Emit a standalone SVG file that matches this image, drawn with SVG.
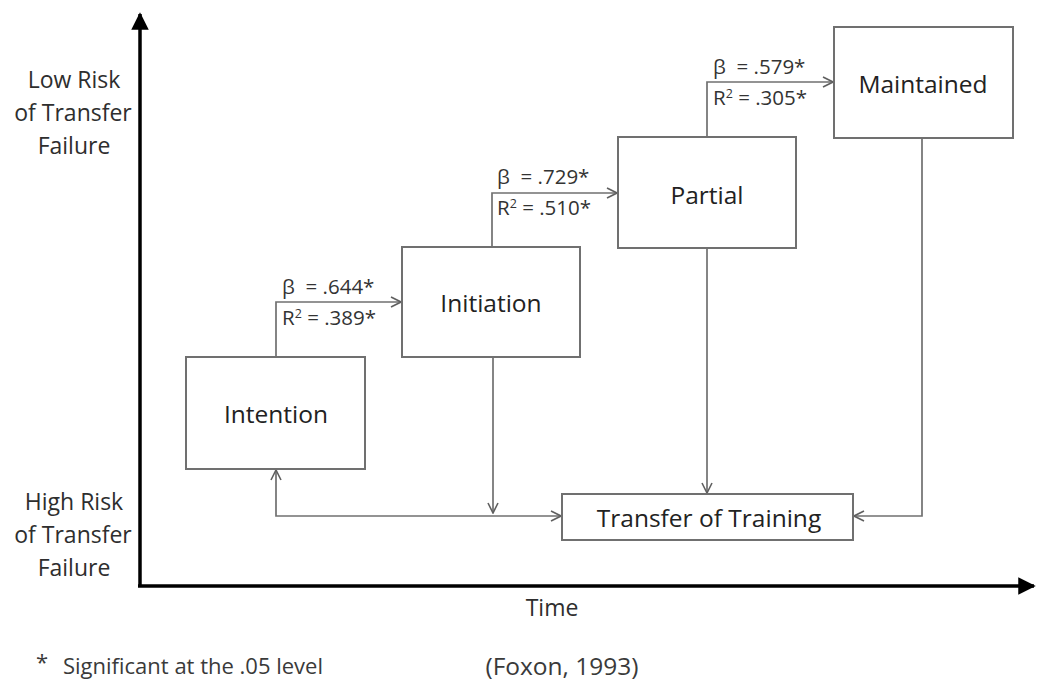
<svg xmlns="http://www.w3.org/2000/svg" width="1041" height="681" viewBox="0 0 1041 681">
  <style>
    .box { fill: #ffffff; stroke: #707070; stroke-width: 2; }
    .lbl { font-family: "Open Sans", "Liberation Sans", sans-serif; font-size: 24.5px; fill: #222222; text-anchor: middle; dominant-baseline: central; }
    .coef { font-family: "Open Sans", "Liberation Sans", sans-serif; font-size: 20.5px; fill: #333333; white-space: pre; }
    .axis-lbl { font-family: "Open Sans", "Liberation Sans", sans-serif; font-size: 23px; fill: #2e2e2e; text-anchor: middle; dominant-baseline: central; }
    .note { font-family: "Open Sans", "Liberation Sans", sans-serif; font-size: 22px; fill: #3a3a3a; dominant-baseline: central; }
    .source { font-size: 24.5px; text-anchor: middle; }
    .conn { fill: none; stroke: #707070; stroke-width: 1.7; }
    .axis { fill: none; stroke: #000000; stroke-width: 3.5; }
  </style>
  <defs>
    <marker id="chev" viewBox="0 0 12 12" refX="11" refY="6" markerWidth="12" markerHeight="12" markerUnits="userSpaceOnUse" orient="auto-start-reverse">
      <path d="M1,1 L11,6 L1,11" fill="none" stroke="#606060" stroke-width="1.6"/>
    </marker>
    <marker id="tri" viewBox="0 0 10 10" refX="9" refY="5" markerWidth="5" markerHeight="5" orient="auto">
      <path d="M0,0 L10,5 L0,10 Z" fill="#000000"/>
    </marker>
  </defs>

  <!-- axes -->
  <g id="axes">
    <path class="axis" d="M140,586 L140,14" marker-end="url(#tri)"/>
    <path class="axis" d="M138,586 L1034,586" marker-end="url(#tri)"/>
    <text class="axis-lbl" x="74" y="79">Low Risk</text>
    <text class="axis-lbl" x="73" y="112">of Transfer</text>
    <text class="axis-lbl" x="74" y="145">Failure</text>
    <text class="axis-lbl" x="74" y="501">High Risk</text>
    <text class="axis-lbl" x="73" y="534">of Transfer</text>
    <text class="axis-lbl" x="74" y="567">Failure</text>
    <text class="axis-lbl" x="552" y="607">Time</text>
  </g>

  <!-- connectors -->
  <g id="connectors">
    <path class="conn" d="M276,357 L276,302 L401,302" marker-end="url(#chev)"/>
    <path class="conn" d="M492,247 L492,193 L617,193" marker-end="url(#chev)"/>
    <path class="conn" d="M707,137 L707,82 L833,82" marker-end="url(#chev)"/>
    <path class="conn" d="M276,470 L276,516 L561,516" marker-start="url(#chev)" marker-end="url(#chev)"/>
    <path class="conn" d="M493,357 L493,513" marker-end="url(#chev)"/>
    <path class="conn" d="M707,248 L707,493" marker-end="url(#chev)"/>
    <path class="conn" d="M922,138 L922,516 L854,516" marker-end="url(#chev)"/>
    <text class="coef" x="282" y="294">β  = .644*</text>
    <text class="coef" x="282" y="325">R<tspan style="font-size:12.5px" dy="-7">2</tspan><tspan dy="7"> = .389*</tspan></text>
    <text class="coef" x="497" y="184">β  = .729*</text>
    <text class="coef" x="497" y="215">R<tspan style="font-size:12.5px" dy="-7">2</tspan><tspan dy="7"> = .510*</tspan></text>
    <text class="coef" x="713" y="74">β  = .579*</text>
    <text class="coef" x="713" y="105">R<tspan style="font-size:12.5px" dy="-7">2</tspan><tspan dy="7"> = .305*</tspan></text>
  </g>

  <g id="intention">
    <rect class="box" x="186" y="357" width="179" height="112"/>
    <text class="lbl" x="276" y="413">Intention</text>
  </g>
  <g id="initiation">
    <rect class="box" x="402" y="247" width="178" height="110"/>
    <text class="lbl" x="491" y="302">Initiation</text>
  </g>
  <g id="partial">
    <rect class="box" x="618" y="137" width="178" height="111"/>
    <text class="lbl" x="707" y="194">Partial</text>
  </g>
  <g id="maintained">
    <rect class="box" x="834" y="27" width="179" height="111"/>
    <text class="lbl" x="923" y="83">Maintained</text>
  </g>
  <g id="transfer">
    <rect class="box" x="562" y="494" width="291" height="46"/>
    <text class="lbl" x="709" y="517">Transfer of Training</text>
  </g>

  <!-- footnote and source -->
  <g id="notes">
    <text class="note" x="36" y="661">*</text>
    <text class="note" x="63" y="665">Significant at the .05 level</text>
    <text class="note source" x="562" y="665">(Foxon, 1993)</text>
  </g>
</svg>
